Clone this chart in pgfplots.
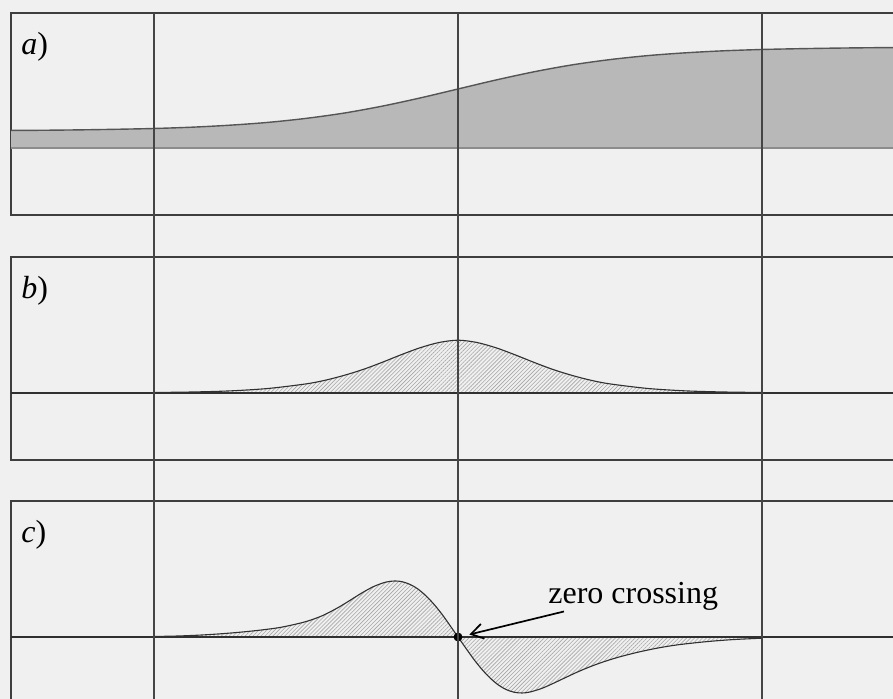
\documentclass[border=0pt]{standalone}
\usepackage{pgfplots}
\pgfplotsset{compat=1.18}
\usepackage{pgfplotstable}
\usepackage{fontspec}
\setmainfont{Liberation Serif}
\usetikzlibrary{patterns.meta,arrows.meta}

\definecolor{bg}{HTML}{F0F0F0}
\definecolor{frame}{HTML}{3E3E3E}
\definecolor{gridline}{HTML}{454545}
\definecolor{fillA}{HTML}{B8B8B8}
\definecolor{curveA}{HTML}{555555}
\definecolor{zeroA}{HTML}{8C8C8C}
\definecolor{curve}{HTML}{303030}
\definecolor{hatch}{HTML}{A6A6A6}

% a) step response
\pgfplotstableread{
t     a
-3.00 17.5
-2.75 17.7
-2.50 18.1
-2.25 18.7
-2.00 19.5
-1.75 20.8
-1.50 22.8
-1.25 25.6
-1.00 29.6
-0.75 34.9
-0.50 41.8
-0.25 50.0
 0.00 59.0
 0.25 68.0
 0.50 76.2
 0.75 83.1
 1.00 88.4
 1.25 92.4
 1.50 95.2
 1.75 97.2
 2.00 98.5
 2.25 99.3
 2.50 99.9
 2.75 100.3
 3.00 100.5
}\stepdata

% b) first derivative (peak)
\pgfplotstableread{
t      b
-2.000 0.5
-1.750 1.0
-1.500 2.1
-1.250 4.5
-1.000 9.1
-0.875 12.7
-0.750 17.6
-0.625 23.5
-0.500 30.6
-0.375 38.2
-0.250 45.2
-0.125 50.5
 0.000 52.8
 0.125 50.5
 0.250 45.2
 0.375 38.2
 0.500 30.6
 0.625 23.5
 0.750 17.6
 0.875 12.7
 1.000 9.1
 1.250 4.5
 1.500 2.1
 1.750 1.0
 2.000 0.5
}\peakdata

% c) second derivative
\pgfplotstableread{
t      c
-2.000 0.5
-1.842 1.0
-1.711 1.8
-1.579 3.0
-1.447 4.6
-1.316 6.6
-1.184 9.2
-1.086 12.2
-0.987 16.0
-0.888 21.6
-0.789 29.4
-0.711 36.6
-0.632 44.1
-0.553 50.6
-0.474 54.9
-0.414 56.0
-0.368 55.3
-0.316 52.6
-0.263 47.9
-0.211 41.2
-0.158 32.7
-0.105 22.7
-0.053 11.6
 0.000 0.0
 0.053 -11.5
 0.105 -22.5
 0.158 -32.5
 0.211 -41.0
 0.263 -47.7
 0.316 -52.5
 0.368 -55.2
 0.421 -56.0
 0.474 -55.0
 0.553 -51.3
 0.632 -46.0
 0.711 -40.3
 0.789 -34.8
 0.868 -29.8
 0.954 -25.0
 1.053 -20.3
 1.184 -15.2
 1.316 -11.0
 1.447 -7.8
 1.632 -4.7
 1.809 -2.6
 2.000 -1.2
}\seconddata

\pgfplotsset{
  panel/.style={
    scale only axis,
    width=447pt,
    xmin=-2.9408, xmax=2.9408,
    xtick=\empty, ytick=\empty,
    axis line style={draw=frame, line width=0.6pt},
    clip mode=individual,
    anchor=south west,
  },
  hatched/.style={
    pattern={Lines[angle=45,distance=1.4pt,line width=0.3pt]},
    pattern color=hatch,
  },
}

\begin{document}
\begin{tikzpicture}
\useasboundingbox (0,0) rectangle (446.5pt,349.5pt);
\clip (0,0) rectangle (446.5pt,349.5pt);
\fill[bg] (0,0) rectangle (446.5pt,349.5pt);

% a)
\begin{axis}[panel, at={(5.5pt,242pt)}, height=101pt, ymin=-67, ymax=135]
  \addplot[draw=none, fill=fillA, smooth] table[x=t,y=a] {\stepdata} \closedcycle;
  \addplot[zeroA, line width=0.6pt] coordinates {(-3,0) (3,0)};
  \addplot[curveA, line width=0.7pt, smooth] table[x=t,y=a] {\stepdata};
  \coordinate (gA) at (axis cs:-2,135);
  \coordinate (gB) at (axis cs:0,135);
  \coordinate (gC) at (axis cs:2,135);
\end{axis}

% b)
\begin{axis}[panel, at={(5.5pt,119.5pt)}, height=101.5pt, ymin=-67, ymax=136]
  \addplot[hatched, draw=none, smooth] table[x=t,y=b] {\peakdata} \closedcycle;
  \addplot[curve, line width=0.6pt] coordinates {(-3,0) (3,0)};
  \addplot[curve, line width=0.55pt, smooth] table[x=t,y=b] {\peakdata};
\end{axis}

% c)
\begin{axis}[panel, at={(5.5pt,-2.5pt)}, height=101.5pt, ymin=-67, ymax=136]
  \addplot[hatched, draw=none, smooth] table[x=t,y=c] {\seconddata} \closedcycle;
  \addplot[curve, line width=0.6pt] coordinates {(-3,0) (3,0)};
  \addplot[curve, line width=0.55pt, smooth] table[x=t,y=c] {\seconddata};
  \addplot[only marks, mark=*, mark size=2pt, black] coordinates {(0,0)};
  \draw[black, line width=0.85pt, -{Straight Barb[length=6pt,width=7.5pt]}]
    (axis cs:0.697,25.5) -- (axis cs:0.075,2.5);
  \node[anchor=base west, inner sep=0pt, font=\fontsize{16}{19}\selectfont]
    at (axis cs:0.592,33.5) {zero crossing};
\end{axis}

% vertical reference lines through all three panels
\foreach \g in {gA,gB,gC}
  \draw[gridline, line width=0.9pt] (\g) -- (\g |- 0,-10pt);

% panel labels
\begin{scope}[every node/.style={anchor=base west, inner sep=0pt,
    font=\fontsize{16}{19}\selectfont}]
  \node at (10.5pt,322.25pt) {\textit{a})};
  \node at (10.5pt,200.25pt) {\textit{b})};
  \node at (10.5pt,78.25pt) {\textit{c})};
\end{scope}
\end{tikzpicture}
\end{document}
